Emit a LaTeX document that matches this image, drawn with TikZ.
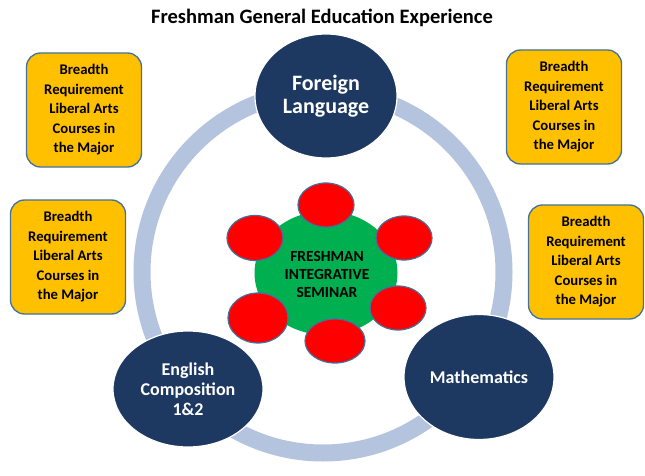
\documentclass[tikz,border=0pt]{standalone}
\usepackage{fontspec}
\setmainfont{Carlito}
\usetikzlibrary{shapes.geometric}
\definecolor{navy}{RGB}{29,56,97}
\definecolor{ringblue}{RGB}{180,196,222}
\definecolor{boxorange}{RGB}{255,192,0}
\definecolor{edgeblue}{RGB}{65,113,156}
\definecolor{semgreen}{RGB}{0,176,80}
\tikzset{
  core/.style={ellipse, fill=navy, draw=white, line width=1.2pt, text=white,
    font=\bfseries\fontsize{18}{20}\selectfont, align=center, inner sep=0pt},
  breadth/.style={rectangle, rounded corners=14pt, fill=boxorange, draw=edgeblue,
    line width=1.3pt, minimum width=115pt, minimum height=114pt, inner sep=0pt,
    align=center, font=\bfseries\fontsize{14.7}{19.5}\selectfont},
  seat/.style={ellipse, fill=red, draw=edgeblue, line width=1.2pt, inner sep=0pt}
}
\newcommand{\breadthtext}{Breadth\\Requirement\\Liberal Arts\\Courses in\\the Major}
\begin{document}
\begin{tikzpicture}[x=1pt, y=-1pt]
  \useasboundingbox[fill=white] (0,0) rectangle (645,476);
  \node[font=\bfseries\fontsize{20.5}{24}\selectfont] (title) at (322,18) {Freshman General Education Experience};
  % ring
  \coordinate (ctr) at (323,272);
  \draw[ringblue, line width=17pt] (ctr) circle[radius=181];
  % three cores
  \node[core, minimum width=142pt, minimum height=124pt,
    font=\bfseries\fontsize{22}{23.5}\selectfont] (lang) at (326,96) {Foreign\\Language};
  \node[core, minimum width=150pt, minimum height=116pt] (engl) at (188,389) {English\\Composition\\1\&2};
  \node[core, minimum width=150pt, minimum height=125pt] (math) at (479,377) {Mathematics};
  % seminar
  \node[ellipse, fill=semgreen, inner sep=0pt, minimum width=143pt, minimum height=124pt] (sem) at (326,273) {};
  \node[seat, minimum width=56pt, minimum height=44pt] (s1) at (326,205) {};
  \node[seat, minimum width=56pt, minimum height=45pt] (s2) at (255,238) {};
  \node[seat, minimum width=56pt, minimum height=44pt] (s3) at (404,238) {};
  \node[seat, minimum width=60pt, minimum height=50pt] (s4) at (258,318) {};
  \node[seat, minimum width=56pt, minimum height=44pt] (s5) at (398,308) {};
  \node[seat, minimum width=60pt, minimum height=44pt] (s6) at (335,341) {};
  \node[align=center, font=\bfseries\fontsize{15.5}{18}\selectfont] (semtext) at (327,274) {FRESHMAN\\INTEGRATIVE\\SEMINAR};
  % breadth boxes
  \node[breadth] (b1) at (84,110) {\breadthtext};
  \node[breadth] (b2) at (68,257) {\breadthtext};
  \node[breadth] (b3) at (564,107) {\breadthtext};
  \node[breadth] (b4) at (586,262) {\breadthtext};
\end{tikzpicture}
\end{document}
